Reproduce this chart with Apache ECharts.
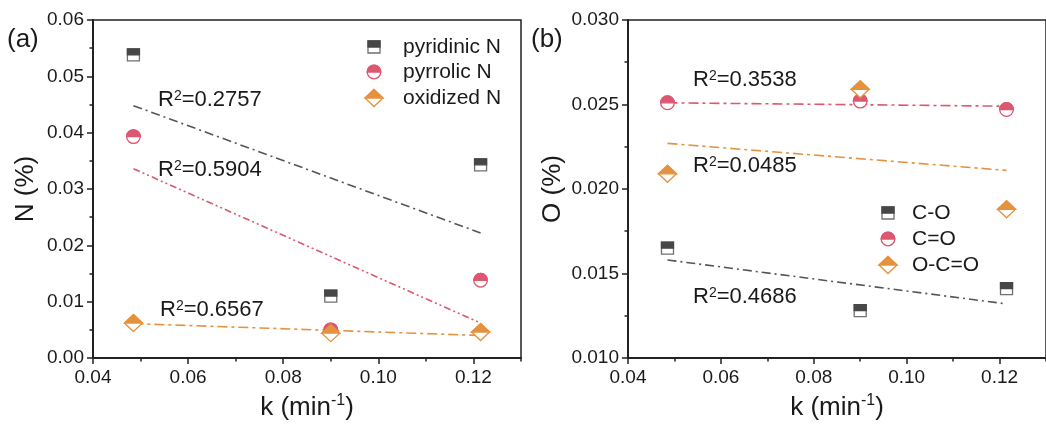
<!DOCTYPE html>
<html><head><meta charset="utf-8">
<script src="https://cdn.jsdelivr.net/npm/echarts@6/dist/echarts.min.js"></script>
<style>html,body{margin:0;padding:0;background:#fff}#c{width:1046px;height:428px}</style>
</head><body><div id="c"></div><script>
// ---- data ----
const kValues = [0.0485, 0.0900, 0.1215];
const pyridinicN = [0.0538, 0.0110, 0.0343];
const pyrrolicN = [0.0393, 0.0050, 0.0138];
const oxidizedN = [0.0062, 0.0044, 0.0046];
const fitK = [0.0485, 0.1215];
const fitPyridinicN = [0.0448, 0.0222];
const fitPyrrolicN = [0.0336, 0.0062];
const fitOxidizedN = [0.0061, 0.0040];
const valCO = [0.0165, 0.0128, 0.0141];
const valCdO = [0.0251, 0.0252, 0.0247];
const valOCdO = [0.0209, 0.0259, 0.0188];
const fitCO = [0.0158, 0.0132];
const fitCdO = [0.0251, 0.0249];
const fitOCdO = [0.0227, 0.0211];
const namesA = ['pyridinic N', 'pyrrolic N', 'oxidized N'];
const namesB = ['C-O', 'C=O', 'O-C=O'];
const r2A = ['0.2757', '0.5904', '0.6567'];
const r2B = ['0.3538', '0.0485', '0.4686'];

// ---- style ----
const FONT = '"Liberation Sans", Arial, sans-serif';
const GREY = '#474747', PINK = '#dc5870', ORANGE = '#e5923e';
const LGREY = '#555555';
const TXT = '#1a1a1a';

function markerShapes(kind, color, cx, cy) {
  const lw = 1.3;
  if (kind === 'square') {
    const s = 12;
    return [
      {type: 'rect', shape: {x: cx - s / 2, y: cy - s / 2, width: s, height: s}, style: {fill: '#fff', stroke: '#707070', lineWidth: lw}},
      {type: 'rect', shape: {x: cx - s / 2, y: cy - s / 2, width: s, height: s / 2}, style: {fill: color, stroke: color, lineWidth: lw}}
    ];
  }
  if (kind === 'circle') {
    const r = 6.8;
    return [
      {type: 'circle', shape: {cx: cx, cy: cy, r: r}, style: {fill: '#fff', stroke: color, lineWidth: lw}},
      {type: 'sector', shape: {cx: cx, cy: cy, r0: 0, r: r, startAngle: Math.PI, endAngle: 2 * Math.PI, clockwise: true}, style: {fill: color, stroke: color, lineWidth: lw}}
    ];
  }
  const w = 9, h = 8.5;
  return [
    {type: 'polygon', shape: {points: [[cx, cy - h], [cx + w, cy], [cx, cy + h], [cx - w, cy]]}, style: {fill: '#fff', stroke: color, lineWidth: lw}},
    {type: 'polygon', shape: {points: [[cx, cy - h], [cx + w, cy], [cx - w, cy]]}, style: {fill: color, stroke: color, lineWidth: lw}}
  ];
}

function markerSeries(xi, yi, ys, kind, color) {
  return {
    type: 'custom', xAxisIndex: xi, yAxisIndex: yi, z: 10,
    data: kValues.map((k, i) => [k, ys[i]]),
    renderItem: function (params, api) {
      const p = api.coord([api.value(0), api.value(1)]);
      return {type: 'group', children: markerShapes(kind, color, p[0], p[1])};
    }
  };
}
function fitSeries(xi, yi, ys, color, dash) {
  return {
    type: 'line', xAxisIndex: xi, yAxisIndex: yi, z: 3, silent: true,
    data: fitK.map((k, i) => [k, ys[i]]), symbol: 'none',
    lineStyle: {color: color, width: 1.6, type: dash}
  };
}

const supRich = {sup: {fontSize: 14, fontFamily: FONT, verticalAlign: 'top', fill: TXT, color: TXT}};
function textEl(str, x, y, size, rich) {
  const st = {text: str, fontSize: size, fontFamily: FONT, fill: TXT,
    align: 'left', verticalAlign: 'middle', textAlign: 'left', textVerticalAlign: 'middle'};
  if (rich) st.rich = rich;
  return {type: 'text', x: x, y: y, z: 20, style: st};
}
function r2Text(v, x, y) {
  return textEl('R{sup|2}=' + v, x, y, 22, supRich);
}

function xMain(grid) {
  return {
    gridIndex: grid, type: 'value', min: 0.04, max: 0.13, interval: 0.02, position: 'bottom',
    axisLine: {show: true, onZero: false, lineStyle: {color: '#222', width: 2}},
    axisTick: {show: true, length: 6, lineStyle: {color: '#222', width: 1.5}},
    axisLabel: {fontSize: 19, fontFamily: FONT, color: TXT, margin: 10, showMaxLabel: false, formatter: v => v.toFixed(2)},
    splitLine: {show: false},
    name: 'k (min{sup|-1})', nameLocation: 'middle', nameGap: 35,
    nameTextStyle: {fontSize: 26, fontFamily: FONT, color: TXT, lineHeight: 30,
      rich: {sup: {fontSize: 16, fontFamily: FONT, color: TXT, verticalAlign: 'top', lineHeight: 16}}}
  };
}
function xMinor(grid) {
  return {
    gridIndex: grid, type: 'value', min: 0.04, max: 0.13, interval: 0.01, position: 'bottom',
    axisLine: {show: false}, axisTick: {show: true, length: 3.5, lineStyle: {color: '#222', width: 1.5}},
    axisLabel: {show: false}, splitLine: {show: false}
  };
}
function yAxis(grid, min, max, interval, dec, name, gap) {
  return {
    gridIndex: grid, type: 'value', min: min, max: max, interval: interval,
    axisLine: {show: true, onZero: false, lineStyle: {color: '#222', width: 2}},
    axisTick: {show: true, length: 6, lineStyle: {color: '#222', width: 1.5}},
    minorTick: {show: true, splitNumber: 2, length: 3.5, lineStyle: {color: '#222', width: 1.5}},
    axisLabel: {fontSize: 19, fontFamily: FONT, color: TXT, margin: 9, formatter: v => v.toFixed(dec)},
    splitLine: {show: false},
    name: name, nameLocation: 'middle', nameGap: gap,
    nameTextStyle: {fontSize: 26, fontFamily: FONT, color: TXT}
  };
}

const graphics = [
  textEl('(a)', 7, 40, 26),
  textEl('(b)', 531, 40, 26),
  r2Text(r2A[0], 158, 100), r2Text(r2A[1], 158, 170), r2Text(r2A[2], 160, 310),
  r2Text(r2B[0], 693, 80), r2Text(r2B[1], 693, 166), r2Text(r2B[2], 693, 297)
];
const kinds = ['square', 'circle', 'diamond'];
const colors = [GREY, PINK, ORANGE];
const legA = [47, 72, 98], legB = [213, 239, 265];
for (let i = 0; i < 3; i++) {
  graphics.push({type: 'group', z: 20, children: markerShapes(kinds[i], colors[i], 374, legA[i])});
  graphics.push(textEl(namesA[i], 403, legA[i], 21));
  graphics.push({type: 'group', z: 20, children: markerShapes(kinds[i], colors[i], 888, legB[i])});
  graphics.push(textEl(namesB[i], 912, legB[i], 21));
}

const option = {
  animation: false,
  backgroundColor: '#fff',
  grid: [
    {left: 93, top: 20, width: 428, height: 342, show: true, borderColor: '#222', borderWidth: 1.5, containLabel: false},
    {left: 628, top: 20, width: 427, height: 342, show: true, borderColor: '#222', borderWidth: 1.5, containLabel: false}
  ],
  xAxis: [xMain(0), xMinor(0), xMain(1), xMinor(1)],
  yAxis: [
    yAxis(0, 0, 0.06, 0.01, 2, 'N (%)', 54),
    yAxis(1, 0.01, 0.03, 0.005, 3, 'O (%)', 62)
  ],
  series: [
    fitSeries(0, 0, fitPyridinicN, LGREY, [9, 4, 2, 4]),
    fitSeries(0, 0, fitPyrrolicN, PINK, [7, 3, 2, 3, 2, 3]),
    fitSeries(0, 0, fitOxidizedN, ORANGE, [10, 4, 3, 4]),
    fitSeries(2, 1, fitCO, LGREY, [9, 4, 2, 4]),
    fitSeries(2, 1, fitCdO, PINK, [10, 4, 3, 4]),
    fitSeries(2, 1, fitOCdO, ORANGE, [10, 4, 3, 4]),
    markerSeries(0, 0, pyridinicN, 'square', GREY),
    markerSeries(0, 0, pyrrolicN, 'circle', PINK),
    markerSeries(0, 0, oxidizedN, 'diamond', ORANGE),
    markerSeries(2, 1, valCO, 'square', GREY),
    markerSeries(2, 1, valCdO, 'circle', PINK),
    markerSeries(2, 1, valOCdO, 'diamond', ORANGE)
  ],
  graphic: graphics
};
const chart = echarts.init(document.getElementById('c'), null, {renderer: 'canvas'});
chart.setOption(option);
</script></body></html>
